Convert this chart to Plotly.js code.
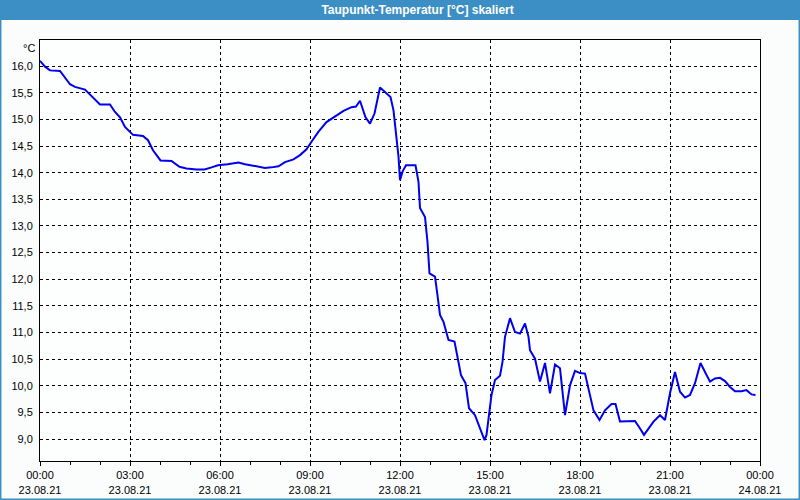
<!DOCTYPE html>
<html>
<head>
<meta charset="utf-8">
<script src="https://cdn.plot.ly/plotly-3.0.1.min.js"></script>
<style>html,body{margin:0;padding:0;background:#fafdfc;}#chart{width:800px;height:500px;}</style>
</head>
<body>
<div id="chart"></div>
<script>
const day = "2021-08-23";
const times = ["00:00","00:10","00:20","00:40","01:00","01:10","01:30","01:40","02:00","02:20","02:30","02:40","02:50","03:06","03:26","03:36","03:46","04:01","04:23","04:39","04:53","05:13","05:29","05:43","05:56","06:15","06:37","06:50","07:07","07:20","07:30","07:43","07:57","08:10","08:27","08:40","08:53","09:03","09:17","09:33","09:50","10:07","10:23","10:32","10:40","10:51","11:00","11:09","11:20","11:30","11:41","11:47","11:52","11:57","12:00","12:05","12:12","12:31","12:37","12:40","12:50","12:55","12:59","13:10","13:15","13:20","13:27","13:37","13:49","13:57","14:02","14:11","14:18","14:30","14:40","14:49","14:53","14:59","15:03","15:10","15:20","15:25","15:30","15:40","15:50","16:00","16:10","16:17","16:20","16:30","16:40","16:50","17:00","17:10","17:20","17:30","17:40","17:50","18:00","18:10","18:27","18:39","18:50","19:03","19:11","19:20","19:37","19:50","20:00","20:08","20:27","20:40","20:50","21:00","21:10","21:20","21:30","21:40","21:50","22:01","22:10","22:20","22:30","22:40","22:50","23:00","23:10","23:23","23:33","23:43","23:51"];
const values = [16.10,15.99,15.92,15.91,15.66,15.61,15.56,15.46,15.28,15.28,15.14,15.04,14.86,14.71,14.69,14.61,14.42,14.23,14.22,14.11,14.08,14.06,14.06,14.10,14.14,14.16,14.19,14.16,14.13,14.12,14.09,14.10,14.12,14.20,14.25,14.33,14.44,14.58,14.77,14.95,15.06,15.16,15.23,15.24,15.35,15.04,14.92,15.11,15.60,15.52,15.42,15.17,14.74,14.30,13.86,14.02,14.14,14.14,13.83,13.34,13.17,12.70,12.11,12.05,11.70,11.33,11.20,10.86,10.83,10.45,10.20,10.05,9.58,9.45,9.20,8.98,9.08,9.51,9.83,10.11,10.19,10.45,10.92,11.27,11.01,10.98,11.17,10.92,10.67,10.51,10.08,10.43,9.86,10.40,10.33,9.45,10.01,10.28,10.24,10.23,9.54,9.36,9.54,9.66,9.66,9.33,9.33,9.34,9.20,9.08,9.33,9.45,9.36,9.86,10.26,9.89,9.78,9.83,10.05,10.43,10.26,10.08,10.14,10.15,10.09,9.98,9.90,9.90,9.92,9.84,9.83];
const tickTimes = ["2021-08-23 00:00","2021-08-23 03:00","2021-08-23 06:00","2021-08-23 09:00","2021-08-23 12:00","2021-08-23 15:00","2021-08-23 18:00","2021-08-23 21:00","2021-08-24 00:00"];
const tickLabels = ["00:00<br>23.08.21","03:00<br>23.08.21","06:00<br>23.08.21","09:00<br>23.08.21","12:00<br>23.08.21","15:00<br>23.08.21","18:00<br>23.08.21","21:00<br>23.08.21","00:00<br>24.08.21"];
const yTicks = [9.0,9.5,10.0,10.5,11.0,11.5,12.0,12.5,13.0,13.5,14.0,14.5,15.0,15.5,16.0];
const yLabels = ["9,0","9,5","10,0","10,5","11,0","11,5","12,0","12,5","13,0","13,5","14,0","14,5","15,0","15,5","16,0"];

const trace = {
  x: times.map(t => day + " " + t),
  y: values,
  type: "scatter",
  mode: "lines",
  line: {color: "#0000ee", width: 2},
  hoverinfo: "skip"
};

const blue = "#3c8fc4";
const layout = {
  width: 800, height: 500,
  margin: {l: 40, r: 40, t: 40, b: 39, pad: 0},
  paper_bgcolor: "#fafdfc",
  plot_bgcolor: "#fdfefe",
  font: {family: "Liberation Sans, Arial, sans-serif", size: 11, color: "#000"},
  showlegend: false,
  title: {
    text: "<b>Taupunkt-Temperatur [°C] skaliert</b>",
    font: {family: "Liberation Sans, Arial, sans-serif", size: 12, color: "#ffffff"},
    xref: "container", yref: "container",
    x: 0.522, xanchor: "center", y: 0.98, yanchor: "middle"
  },
  xaxis: {
    type: "date",
    range: ["2021-08-23 00:00", "2021-08-24 00:00"],
    tickmode: "array", tickvals: tickTimes, ticktext: tickLabels,
    ticks: "outside", ticklen: 4, tickcolor: "#000", tickwidth: 1,
    minor: {dtick: 3600000, ticks: "outside", ticklen: 3, tickcolor: "#000", showgrid: false},
    showgrid: true, gridcolor: "#000", gridwidth: 1, griddash: "3px,3px",
    showline: true, linecolor: "#000", linewidth: 1, mirror: true,
    zeroline: false, fixedrange: true
  },
  yaxis: {
    range: [8.59, 16.49],
    tickmode: "array", tickvals: yTicks, ticktext: yLabels,
    ticks: "", ticklabelstandoff: 4,
    showgrid: true, gridcolor: "#000", gridwidth: 1, griddash: "3px,3px",
    showline: true, linecolor: "#000", linewidth: 1, mirror: true,
    zeroline: false, fixedrange: true
  },
  shapes: [
    {type: "rect", xref: "paper", yref: "paper", x0: -0.0556, x1: 1.0556, y0: 1.0475, y1: 1.096,
     fillcolor: blue, line: {width: 0}, layer: "below"},
    {type: "rect", xref: "paper", yref: "paper", x0: -0.0556, x1: 1.0556, y0: -0.0927, y1: 1.096,
     fillcolor: "rgba(0,0,0,0)", line: {color: blue, width: 3}, layer: "below"}
  ],
  annotations: [
    {text: "°C", xref: "paper", yref: "paper", x: 0, y: 1, xanchor: "right", yanchor: "top",
     xshift: -3, yshift: 0, showarrow: false, font: {size: 11, color: "#000"}}
  ]
};

Plotly.newPlot("chart", [trace], layout, {staticPlot: true, displayModeBar: false});
</script>
</body>
</html>
